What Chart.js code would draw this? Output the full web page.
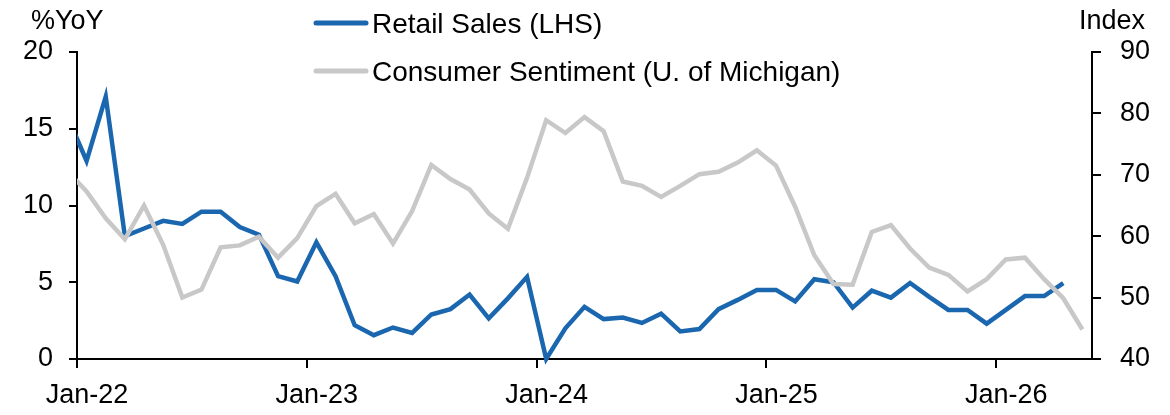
<!DOCTYPE html>
<html>
<head>
<meta charset="utf-8">
<script src="https://cdn.jsdelivr.net/npm/chart.js@4.4.1/dist/chart.umd.min.js"></script>
<style>
  html, body { margin: 0; padding: 0; background: #fff; }
  #wrap { width: 1170px; height: 415px; position: relative; }
</style>
</head>
<body>
<div id="wrap"><canvas id="salesChart"></canvas></div>
<script>
// Monthly categories, Dec-21 (clipped at the left edge) to May-26
const months = [
  'Dec-21',
  'Jan-22', 'Feb-22', 'Mar-22', 'Apr-22', 'May-22', 'Jun-22', 'Jul-22', 'Aug-22', 'Sep-22', 'Oct-22', 'Nov-22', 'Dec-22',
  'Jan-23', 'Feb-23', 'Mar-23', 'Apr-23', 'May-23', 'Jun-23', 'Jul-23', 'Aug-23', 'Sep-23', 'Oct-23', 'Nov-23', 'Dec-23',
  'Jan-24', 'Feb-24', 'Mar-24', 'Apr-24', 'May-24', 'Jun-24', 'Jul-24', 'Aug-24', 'Sep-24', 'Oct-24', 'Nov-24', 'Dec-24',
  'Jan-25', 'Feb-25', 'Mar-25', 'Apr-25', 'May-25', 'Jun-25', 'Jul-25', 'Aug-25', 'Sep-25', 'Oct-25', 'Nov-25', 'Dec-25',
  'Jan-26', 'Feb-26', 'Mar-26', 'Apr-26', 'May-26'
];

// Retail sales, %YoY (LHS) - ends Apr-26
const retailSales = [
  15.8,
  12.9, 17.1, 8.0, 8.5, 9.0, 8.8, 9.6, 9.6, 8.6, 8.1, 5.4, 5.05,
  7.6, 5.4, 2.2, 1.55, 2.05, 1.7, 2.9, 3.25, 4.2, 2.65, 3.95, 5.35,
  0.0, 2.0, 3.4, 2.6, 2.7, 2.35, 2.95, 1.8, 1.95, 3.25, 3.85, 4.5,
  4.5, 3.75, 5.2, 5.0, 3.35, 4.45, 4.0, 4.95, 4.05, 3.2, 3.2, 2.3,
  3.2, 4.1, 4.1, 4.95
];

// Consumer sentiment, U. of Michigan index (RHS)
const sentiment = [
  70.6,
  67.3, 62.9, 59.5, 65.0, 58.6, 50.0, 51.3, 58.2, 58.5, 59.9, 56.5, 59.7,
  64.9, 66.9, 62.1, 63.6, 58.8, 64.1, 71.6, 69.3, 67.6, 63.7, 61.2, 69.5,
  78.9, 76.8, 79.4, 77.1, 68.9, 68.2, 66.4, 68.2, 70.1, 70.5, 72.0, 74.0,
  71.5, 64.8, 56.9, 52.2, 52.1, 60.7, 61.8, 58.0, 54.9, 53.7, 51.0, 53.0,
  56.2, 56.5, 53.0, 49.9, 44.8
];

const tickMonths = ['Jan-22', 'Jan-23', 'Jan-24', 'Jan-25', 'Jan-26'];
const leftRange = [0, 20];
const rightRange = [40, 90];

const FONT = '"Liberation Sans", Arial, sans-serif';
const BLUE = '#1a67b0';
const GREY = '#c8c8c8';

Chart.defaults.font.family = FONT;
Chart.defaults.font.size = 27;
Chart.defaults.color = '#000';

// x position: Jan-22 = 0, so the first (Dec-21) point sits left of the axis
const toPoints = arr => arr.map((v, i) => ({ x: i - 1, y: v }));
const monthIndex = m => months.indexOf(m) - 1;

// Titles and the two-row legend
const annotations = {
  id: 'annotations',
  afterDraw(chart) {
    const ctx = chart.ctx;
    ctx.save();
    ctx.font = '27px ' + FONT;
    ctx.fillStyle = '#000';
    ctx.textBaseline = 'middle';
    ctx.textAlign = 'left';
    ctx.fillText('%YoY', 31, 22);
    ctx.textAlign = 'right';
    ctx.fillText('Index', 1145, 22);

    ctx.font = '28px ' + FONT;
    ctx.textAlign = 'left';
    ctx.lineWidth = 5;
    ctx.lineCap = 'round';
    chart.data.datasets
      .slice()
      .sort((a, b) => a.legendRow - b.legendRow)
      .forEach((ds, row) => {
        const y = 23 + row * 48;
        ctx.strokeStyle = ds.borderColor;
        ctx.beginPath();
        ctx.moveTo(316, y);
        ctx.lineTo(366, y);
        ctx.stroke();
        ctx.fillText(ds.label, 372, y + 2);
      });
    ctx.restore();
  }
};

const salesChart = new Chart(document.getElementById('salesChart'), {
  type: 'line',
  data: {
    datasets: [
      {
        label: 'Consumer Sentiment (U. of Michigan)',
        data: toPoints(sentiment),
        yAxisID: 'y1',
        borderColor: GREY,
        borderWidth: 4.5,
        pointRadius: 0,
        tension: 0,
        order: 0,
        legendRow: 1,
        clip: { left: 0, right: 6, top: 6, bottom: 6 }
      },
      {
        label: 'Retail Sales (LHS)',
        data: toPoints(retailSales),
        yAxisID: 'y',
        borderColor: BLUE,
        borderWidth: 4.5,
        pointRadius: 0,
        tension: 0,
        order: 1,
        legendRow: 0,
        clip: { left: 0, right: 6, top: 6, bottom: 6 }
      }
    ]
  },
  options: {
    responsive: true,
    maintainAspectRatio: false,
    animation: false,
    layout: { padding: { top: 52, left: 0, right: 0, bottom: 0 } },
    plugins: {
      legend: { display: false },
      tooltip: { enabled: false }
    },
    scales: {
      x: {
        type: 'linear',
        min: -0.5,
        max: months.length - 1.5,
        afterBuildTicks: scale => {
          scale.ticks = tickMonths.map(m => ({ value: monthIndex(m) - 0.5 }));
        },
        afterFit: scale => { scale.height = 56; },
        grid: {
          drawOnChartArea: false,
          drawTicks: true,
          tickLength: 9,
          color: '#000',
          lineWidth: 2
        },
        border: { display: true, color: '#000', width: 2 },
        ticks: {
          autoSkip: false,
          maxRotation: 0,
          labelOffset: 10,
          padding: 11,
          callback: v => months[Math.round(v + 0.5) + 1]
        }
      },
      y: {
        position: 'left',
        min: leftRange[0],
        max: leftRange[1],
        afterFit: scale => { scale.width = 77; },
        grid: {
          drawOnChartArea: false,
          tickLength: 8,
          color: '#000',
          lineWidth: 2
        },
        border: { display: true, color: '#000', width: 2 },
        ticks: { stepSize: 5, padding: 16 }
      },
      y1: {
        position: 'right',
        min: rightRange[0],
        max: rightRange[1],
        afterFit: scale => { scale.width = 78; },
        grid: {
          drawOnChartArea: false,
          tickLength: 9,
          color: '#000',
          lineWidth: 2
        },
        border: { display: true, color: '#000', width: 2 },
        ticks: { stepSize: 10, padding: 19 }
      }
    }
  },
  plugins: [annotations]
});
</script>
</body>
</html>
